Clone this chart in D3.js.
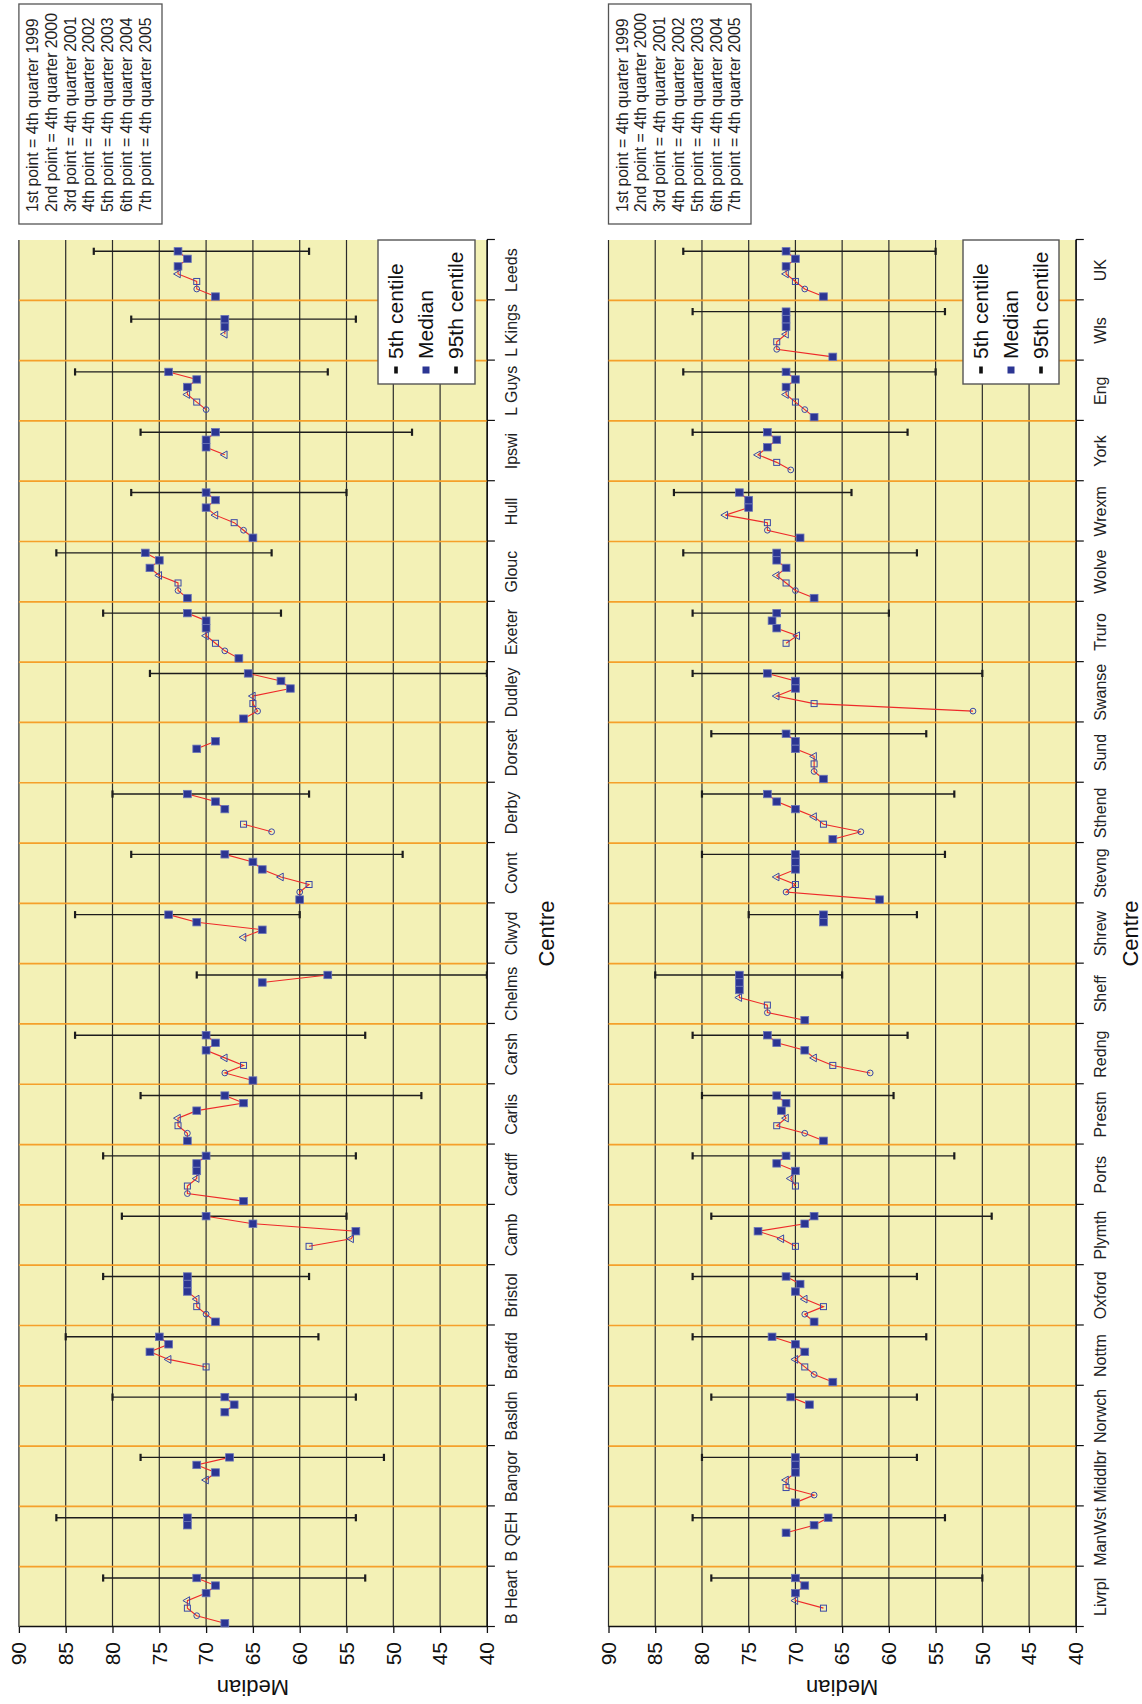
<!DOCTYPE html>
<html>
<head>
<meta charset="utf-8">
<script src="https://cdn.jsdelivr.net/npm/d3@7"></script>
<style>
  body { margin: 0; background: #ffffff; }
  svg { display: block; }
</style>
</head>
<body>
<svg id="chart" width="1142" height="1704"></svg>
<script>
// ---- data -------------------------------------------------------------
const valueTicks = [40, 45, 50, 55, 60, 65, 70, 75, 80, 85, 90];
const slotMarkers = ["filled", "circle", "square", "triangle", "filled", "filled", "filled"];
const legendLabels = ["5th centile", "Median", "95th centile"];
const pointNotes = [
  "1st point = 4th quarter 1999",
  "2nd point = 4th quarter 2000",
  "3rd point = 4th quarter 2001",
  "4th point = 4th quarter 2002",
  "5th point = 4th quarter 2003",
  "6th point = 4th quarter 2004",
  "7th point = 4th quarter 2005"
];

const centresTop = ["B Heart", "B QEH", "Bangor", "Basldn", "Bradfd", "Bristol", "Camb",
  "Cardff", "Carlis", "Carsh", "Chelms", "Clwyd", "Covnt", "Derby", "Dorset", "Dudley",
  "Exeter", "Glouc", "Hull", "Ipswi", "L Guys", "L Kings", "Leeds"];
const mediansTop = [
  [68, 71, 72, 72, 70, 69, 71],
  [null, null, null, null, null, 72, 72],
  [null, null, null, 70, 69, 71, 67.5],
  [null, null, null, null, 68, 67, 68],
  [null, null, 70, 74, 76, 74, 75],
  [69, 70, 71, 71, 72, 72, 72],
  [null, null, 59, 54.5, 54, 65, 70],
  [66, 72, 72, 71, 71, 71, 70],
  [72, 72, 73, 73, 71, 66, 68],
  [65, 68, 66, 68, 70, 69, 70],
  [null, null, null, null, null, 64, 57],
  [null, null, null, 66, 64, 71, 74],
  [60, 60, 59, 62, 64, 65, 68],
  [null, 63, 66, null, 68, 69, 72],
  [null, null, null, null, 71, 69, null],
  [66, 64.5, 65, 65, 61, 62, 65.5],
  [66.5, 68, 69, 70, 70, 70, 72],
  [72, 73, 73, 75, 76, 75, 76.5],
  [65, 66, 67, 69, 70, 69, 70],
  [null, null, null, 68, 70, 70, 69],
  [null, 70, 71, 72, 72, 71, 74],
  [null, null, null, 68, 68, 68, null],
  [69, 71, 71, 73, 73, 72, 73]
];
const p5Top  = [53, 54, 51, 54, 58, 59, 55, 54, 47, 53, 40, 60, 49, 59, null, 40, 62, 63, 55, 48, 57, 54, 59];
const p95Top = [81, 86, 77, 80, 85, 81, 79, 81, 77, 84, 71, 84, 78, 80, null, 76, 81, 86, 78, 77, 84, 78, 82];

const centresBottom = ["Livrpl", "ManWst", "Middlbr", "Norwch", "Nottm", "Oxford", "Plymth",
  "Ports", "Prestn", "Redng", "Sheff", "Shrew", "Stevng", "Sthend", "Sund", "Swanse",
  "Truro", "Wolve", "Wrexm", "York", "Eng", "Wls", "UK"];
const mediansBottom = [
  [null, null, 67, 70, 70, 69, 70],
  [null, null, null, null, 71, 68, 66.5],
  [70, 68, 71, 71, 70, 70, 70],
  [null, null, null, null, null, 68.5, 70.5],
  [66, 68, 69, 70, 69, 70, 72.5],
  [68, 69, 67, 69, 70, 69.5, 71],
  [null, null, 70, 71.5, 74, 69, 68],
  [null, null, 70, 70.5, 70, 72, 71],
  [67, 69, 72, 71, 71.5, 71, 72],
  [null, 62, 66, 68, 69, 72, 73],
  [69, 73, 73, 76, 76, 76, 76],
  [null, null, null, null, null, 67, 67],
  [61, 71, 70, 72, 70, 70, 70],
  [66, 63, 67, 68, 70, 72, 73],
  [67, 68, 68, 68, 70, 70, 71],
  [null, 51, 68, 72, 70, 70, 73],
  [null, null, 71, 69.8, 72, 72.5, 72],
  [68, 70, 71, 72, 71, 72, 72],
  [69.5, 73, 73, 77.5, 75, 75, 76],
  [null, 70.5, 72, 74, 73, 72, 73],
  [68, 69, 70, 71, 71, 70, 71],
  [66, 72, 72, 71, 71, 71, 71],
  [67, 69, 70, 71, 71, 70, 71]
];
const p5Bottom  = [50, 54, 57, 57, 56, 57, 49, 53, 59.5, 58, 65, 57, 54, 53, 56, 50, 60, 57, 64, 58, 55, 54, 55];
const p95Bottom = [79, 81, 80, 79, 81, 81, 79, 81, 80, 81, 85, 75, 80, 80, 79, 81, 81, 82, 83, 81, 82, 81, 82];

// ---- layout -----------------------------------------------------------
const W = 1142, H = 1704;
const FONT = "'Liberation Sans', Arial, Helvetica, sans-serif";
const COL = {
  plot: "#f3f1b6", grid: "#2b2b2b", sep: "#f5a02a", axis: "#111111",
  line: "#ee2a2a", mark: "#2b3593", markEdge: "#6a74b8", open: "#3a48a6", err: "#1c1c1c"
};

// The whole figure is laid out sideways: a frame rotated a quarter turn,
// so centres run bottom-to-top and the median scale runs left-to-right.
const svg = d3.select("#chart");
const frame = svg.append("g").attr("transform", `translate(0,${H}) rotate(-90)`);

const plotLeft = 77, plotRight = 1464;     // along the centre axis
const panels = [
  { centres: centresTop, medians: mediansTop, p5: p5Top, p95: p95Top,
    top: 18.9, bottom: 486.9, legend: [378, 475], notes: [18.9, 162], titleGap: 67 },
  { centres: centresBottom, medians: mediansBottom, p5: p5Bottom, p95: p95Bottom,
    top: 608.5, bottom: 1075.8, legend: [963, 1059], notes: [608.5, 751], titleGap: 62 }
];

function drawPanel(p) {
  const g = frame.append("g").attr("font-family", FONT);

  const x = d3.scaleBand().domain(p.centres).range([plotLeft, plotRight]).paddingInner(0).paddingOuter(0);
  const slot = d3.scaleLinear().domain([0, 8]).range([0, x.bandwidth()]);
  const edge = d3.scaleLinear().domain([0, p.centres.length]).range([plotLeft, plotRight]);
  const y = d3.scaleLinear().domain([40, 90]).range([p.bottom, p.top]);
  const px = (c, i) => x(c) + slot(i + 0.5);

  // plot background
  g.append("rect")
    .attr("x", plotLeft).attr("y", p.top)
    .attr("width", plotRight - plotLeft).attr("height", p.bottom - p.top)
    .attr("fill", COL.plot);

  // median gridlines
  g.append("g").selectAll("line").data(valueTicks).join("line")
    .attr("x1", plotLeft).attr("x2", plotRight)
    .attr("y1", d => y(d)).attr("y2", d => y(d))
    .attr("stroke", COL.grid).attr("stroke-width", 1.2);

  // separators between centres
  g.append("g").selectAll("line").data(d3.range(1, p.centres.length)).join("line")
    .attr("x1", d => edge(d)).attr("x2", d => edge(d))
    .attr("y1", p.top).attr("y2", p.bottom)
    .attr("stroke", COL.sep).attr("stroke-width", 1.7);

  // median axis
  g.append("g")
    .attr("transform", `translate(${plotLeft},0)`)
    .call(d3.axisLeft(y).tickValues(valueTicks).tickSize(6).tickSizeOuter(0).tickPadding(9))
    .call(a => a.attr("font-family", FONT).attr("font-size", 21))
    .call(a => a.select(".domain").attr("stroke", COL.axis).attr("stroke-width", 1.3))
    .call(a => a.selectAll(".tick line").attr("stroke", COL.axis).attr("stroke-width", 1.3))
    .call(a => a.selectAll(".tick text").attr("fill", "#111"));

  // centre axis: boundary ticks and centred labels
  g.append("g")
    .attr("transform", `translate(0,${p.bottom})`)
    .call(d3.axisBottom(edge).tickValues(d3.range(p.centres.length + 1)).tickFormat("").tickSize(8).tickSizeOuter(0))
    .call(a => a.select(".domain").attr("stroke", COL.axis).attr("stroke-width", 1.2))
    .call(a => a.selectAll(".tick line").attr("stroke", COL.axis).attr("stroke-width", 1.2));

  g.append("g")
    .attr("transform", `translate(0,${p.bottom})`)
    .call(d3.axisBottom(x).tickSize(0))
    .call(a => a.select(".domain").remove())
    .call(a => a.attr("font-family", FONT).attr("font-size", 16))
    .call(a => a.selectAll(".tick text").attr("y", 30).attr("dy", 0).attr("fill", "#222"));

  // axis titles
  g.append("text")
    .attr("transform", `translate(24,${(p.top + p.bottom) / 2}) rotate(-90)`)
    .attr("text-anchor", "middle").attr("font-size", 22).attr("fill", "#111")
    .text("Median");
  g.append("text")
    .attr("x", (plotLeft + plotRight) / 2).attr("y", p.bottom + p.titleGap)
    .attr("text-anchor", "middle").attr("font-size", 22).attr("fill", "#111")
    .text("Centre");

  // 5th–95th centile bars at each centre's latest point
  const bars = p.centres.map((c, i) => {
    const vals = p.medians[i];
    let last = -1;
    vals.forEach((v, k) => { if (v != null) last = k; });
    return { c, lo: p.p5[i], hi: p.p95[i], k: last };
  }).filter(d => d.lo != null && d.hi != null && d.k >= 0);

  const eb = g.append("g").attr("stroke", COL.err);
  eb.selectAll("line.bar").data(bars).join("line").attr("class", "bar")
    .attr("x1", d => px(d.c, d.k)).attr("x2", d => px(d.c, d.k))
    .attr("y1", d => y(d.lo)).attr("y2", d => y(d.hi))
    .attr("stroke-width", 1.4);
  eb.selectAll("line.caplo").data(bars).join("line").attr("class", "caplo")
    .attr("x1", d => px(d.c, d.k) - 3.6).attr("x2", d => px(d.c, d.k) + 3.6)
    .attr("y1", d => y(d.lo)).attr("y2", d => y(d.lo))
    .attr("stroke-width", 2.2);
  eb.selectAll("line.caphi").data(bars).join("line").attr("class", "caphi")
    .attr("x1", d => px(d.c, d.k) - 3.6).attr("x2", d => px(d.c, d.k) + 3.6)
    .attr("y1", d => y(d.hi)).attr("y2", d => y(d.hi))
    .attr("stroke-width", 2.2);

  // connecting lines, broken where a quarter is missing
  const series = p.centres.map((c, i) => ({ c, pts: p.medians[i].map((v, k) => ({ k, v })) }));
  g.append("g").selectAll("path").data(series).join("path")
    .attr("d", s => d3.line().defined(d => d.v != null).x(d => px(s.c, d.k)).y(d => y(d.v))(s.pts))
    .attr("fill", "none").attr("stroke", COL.line).attr("stroke-width", 1.1);

  // markers
  const pts = series.flatMap(s => s.pts.filter(d => d.v != null).map(d => ({ c: s.c, k: d.k, v: d.v })));
  const mk = g.append("g");
  mk.selectAll("rect.filled").data(pts.filter(d => slotMarkers[d.k] === "filled")).join("rect")
    .attr("class", "filled")
    .attr("x", d => px(d.c, d.k) - 3.7).attr("y", d => y(d.v) - 3.9)
    .attr("width", 7.4).attr("height", 7.8)
    .attr("fill", COL.mark).attr("stroke", COL.markEdge).attr("stroke-width", 0.8);
  mk.selectAll("rect.open").data(pts.filter(d => slotMarkers[d.k] === "square")).join("rect")
    .attr("class", "open")
    .attr("x", d => px(d.c, d.k) - 3).attr("y", d => y(d.v) - 3)
    .attr("width", 6).attr("height", 6)
    .attr("fill", "none").attr("stroke", COL.open).attr("stroke-width", 1);
  mk.selectAll("circle").data(pts.filter(d => slotMarkers[d.k] === "circle")).join("circle")
    .attr("cx", d => px(d.c, d.k)).attr("cy", d => y(d.v)).attr("r", 2.9)
    .attr("fill", "none").attr("stroke", COL.open).attr("stroke-width", 1);
  mk.selectAll("path").data(pts.filter(d => slotMarkers[d.k] === "triangle")).join("path")
    .attr("d", d3.symbol(d3.symbolTriangle, 26))
    .attr("transform", d => `translate(${px(d.c, d.k)},${y(d.v)})`)
    .attr("fill", "none").attr("stroke", COL.open).attr("stroke-width", 1);

  // legend box
  const lg = g.append("g");
  lg.append("rect")
    .attr("x", 1320).attr("y", p.legend[0])
    .attr("width", plotRight - 1320).attr("height", p.legend[1] - p.legend[0])
    .attr("fill", "#ffffff").attr("stroke", "#555").attr("stroke-width", 1.4);
  legendLabels.forEach((lab, i) => {
    const base = p.legend[0] + 25 + i * 30;
    if (i === 1) {
      lg.append("rect").attr("x", 1330.5).attr("y", base - 10.5).attr("width", 7).attr("height", 7)
        .attr("fill", COL.mark);
    } else {
      lg.append("rect").attr("x", 1330.5).attr("y", base - 8.8).attr("width", 7).attr("height", 3.6)
        .attr("fill", "#111");
    }
    lg.append("text").attr("x", 1345).attr("y", base)
      .attr("font-size", 21).attr("fill", "#111").text(lab);
  });

  // notes box
  const nb = g.append("g");
  nb.append("rect")
    .attr("x", 1480).attr("y", p.notes[0])
    .attr("width", 220).attr("height", p.notes[1] - p.notes[0])
    .attr("fill", "#ffffff").attr("stroke", "#555").attr("stroke-width", 1.3);
  nb.selectAll("text").data(pointNotes).join("text")
    .attr("x", 1492).attr("y", (d, i) => p.notes[0] + 19 + i * 18.8)
    .attr("font-size", 15.8).attr("fill", "#222")
    .text(d => d);
}

panels.forEach(drawPanel);
</script>
</body>
</html>
